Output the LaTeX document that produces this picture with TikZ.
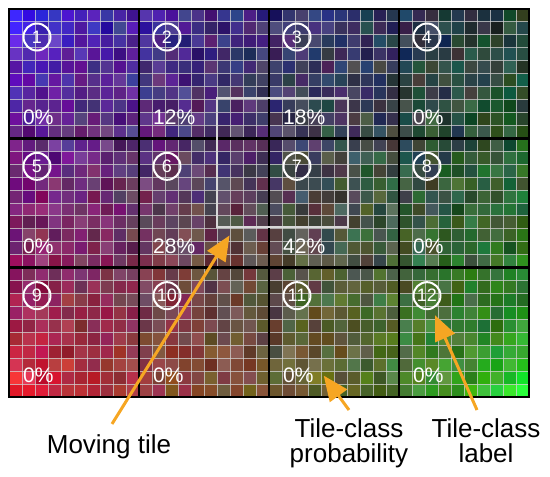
\documentclass[tikz,border=0pt]{standalone}
\usepackage{fontspec}
\setmainfont{Liberation Sans}
\usetikzlibrary{arrows.meta,positioning}
\definecolor{arroworange}{RGB}{246,166,35}
\definecolor{boxgray}{RGB}{215,215,215}

\begin{document}
\begin{tikzpicture}[x=1pt, y=-1pt,
    cellgrid/.style={draw=white!65!gray, line width=0.9pt, opacity=0.75},
    tileline/.style={draw=black, line width=2.8pt},
    tilenum/.style={circle, draw=white, line width=2pt, minimum size=27pt, inner sep=0pt, text=white, font=\fontsize{18}{18}\selectfont},
    prob/.style={anchor=west, inner sep=0pt, text=white, font=\fontsize{21}{21}\selectfont},
    caption/.style={align=center, inner sep=0pt, font=\fontsize{26}{25}\selectfont},
    pointer/.style={-{Triangle[length=25pt,width=21pt]}, line width=3pt, arroworange}
]
\useasboundingbox (0,0) rectangle (550,477);

% 40x30 coloured cells, corners blue / red / green
\pgfmathsetseed{42}
\foreach \i in {0,...,39}{
  \foreach \j in {0,...,29}{
    \pgfmathsetmacro{\cu}{\i/39}
    \pgfmathsetmacro{\cv}{\j/29}
    \pgfmathsetmacro{\wtl}{(1-\cu)*(1-\cv)}
    \pgfmathsetmacro{\wbl}{(1-\cu)*\cv}
    \pgfmathsetmacro{\wbr}{\cu*\cv}
    \pgfmathsetmacro{\wtr}{\cu*(1-\cv)}
    \pgfmathsetmacro{\nz}{12*rand}
    \pgfmathtruncatemacro{\cR}{max(0,min(255,\wtl*72+\wbl*180+\wbr*45+\wtr*35+70*\wbl^8+\nz+22*rand))}
    \pgfmathtruncatemacro{\cG}{max(0,min(255,\wtl*35+\wbl*32+\wbr*150+\wtr*60+100*\wbr^10+\nz+22*rand))}
    \pgfmathtruncatemacro{\cB}{max(0,min(255,\wtl*180+\wbl*58+\wbr*38+\wtr*55+70*\wtl^8+\nz+22*rand))}
    \definecolor{cellc}{RGB}{\cR,\cG,\cB}
    \fill[cellc] (9+13*\i, 9+12.9333*\j) rectangle ++(13.2,13.1);
  }
}

% thin cell grid
\foreach \k in {1,...,39} \draw[cellgrid] (9+13*\k,9) -- (9+13*\k,397);
\foreach \k in {1,...,29} \draw[cellgrid] (9,9+12.9333*\k) -- (529,9+12.9333*\k);

% tile borders
\foreach \k in {1,2,3} \draw[tileline] (9+130*\k,9) -- (9+130*\k,397);
\foreach \k in {1,2} \draw[tileline] (9,9+129.333*\k) -- (529,9+129.333*\k);
\draw[tileline] (9,9) rectangle (529,397);

% tile-class labels and probabilities
\foreach \n/\p [count=\k from 0] in {1/0,2/12,3/18,4/0,5/0,6/28,7/42,8/0,9/0,10/0,11/0,12/0}{
  \pgfmathtruncatemacro{\col}{mod(\k,4)}
  \pgfmathtruncatemacro{\row}{int(\k/4)}
  \node[tilenum] (lab\n) at ({9+130*\col+28},{9+129.333*\row+28}) {\n};
  \node[prob] (prob\n) at ({9+130*\col+14},{9+129.333*\row+108}) {\p\%};
}

% moving tile
\node[draw=boxgray, line width=2.8pt, minimum width=131pt, minimum height=129pt, inner sep=0pt] (movbox) at (282.5,162.5) {};

% captions
\node[caption, anchor=base] (movtxt) at (109,453) {Moving tile};
\node[caption, anchor=north] (probtxt) at (349,418) {Tile-class\\probability};
\node[caption, anchor=north] (labtxt) at (486,418) {Tile-class\\label};

\draw[pointer] ([xshift=3pt,yshift=10pt]movtxt.north) -- ([xshift=14pt,yshift=-7pt]movbox.south west);
\draw[pointer] ([yshift=8pt]probtxt.north) -- ([xshift=10pt]prob11.east);
\draw[pointer] ([xshift=-9pt,yshift=8pt]labtxt.north) -- ([xshift=8pt,yshift=-5pt]lab12.south);

\end{tikzpicture}
\end{document}
